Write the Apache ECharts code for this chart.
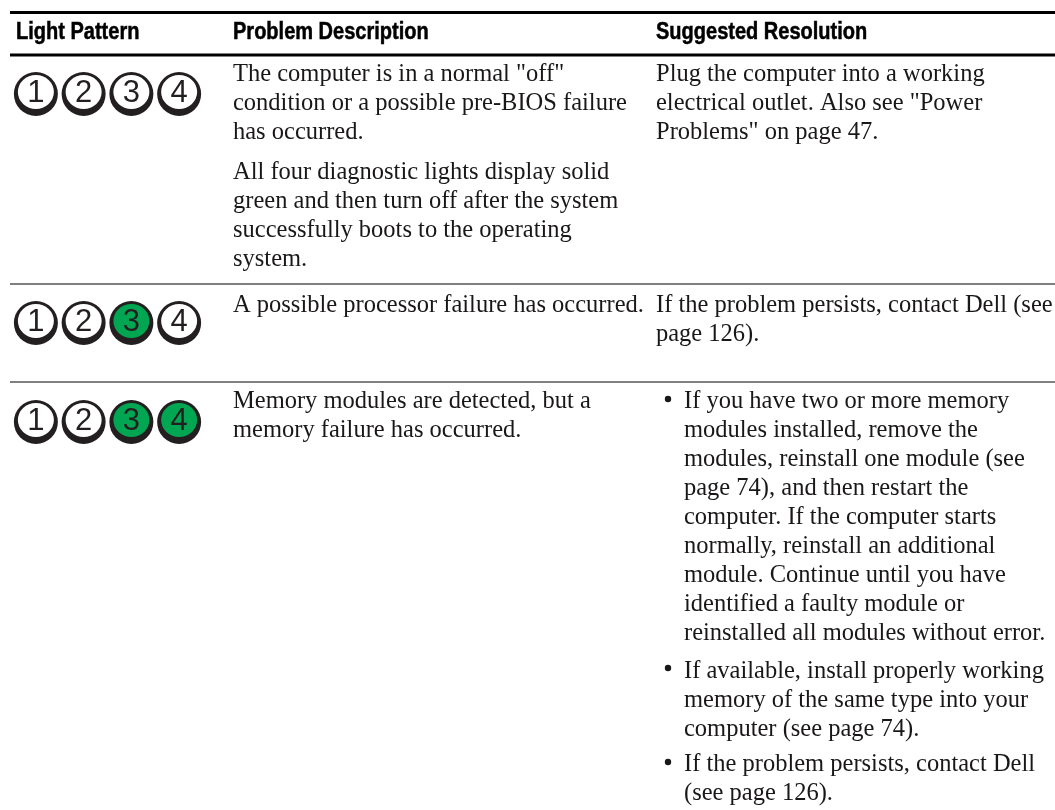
<!DOCTYPE html>
<html>
<head>
<meta charset="utf-8">
<style>
  html, body { margin: 0; padding: 0; background: #fff; }
  #main { width: 1055px; height: 810px; }
</style>
<script src="https://cdn.jsdelivr.net/npm/echarts@6/dist/echarts.min.js"></script>
</head>
<body>
<div id="main"></div>
<script>
// table content
var headers = ['Light Pattern', 'Problem Description', 'Suggested Resolution']
var lightNames = ['1', '2', '3', '4']
// 0 = off, 1 = solid green
var row1Lights = [0, 0, 0, 0]
var row2Lights = [0, 0, 1, 0]
var row3Lights = [0, 0, 1, 1]

var row1Problem = ['The computer is in a normal "off"', 'condition or a possible pre-BIOS failure', 'has occurred.']
var row1ProblemNote = ['All four diagnostic lights display solid', 'green and then turn off after the system', 'successfully boots to the operating', 'system.']
var row1Fix = ['Plug the computer into a working', 'electrical outlet. Also see "Power', 'Problems" on page 47.']
var row2Problem = ['A possible processor failure has occurred.']
var row2Fix = ['If the problem persists, contact Dell (see', 'page 126).']
var row3Problem = ['Memory modules are detected, but a', 'memory failure has occurred.']
var row3Fix1 = ['If you have two or more memory', 'modules installed, remove the', 'modules, reinstall one module (see', 'page 74), and then restart the', 'computer. If the computer starts', 'normally, reinstall an additional', 'module. Continue until you have', 'identified a faulty module or', 'reinstalled all modules without error.']
var row3Fix2 = ['If available, install properly working', 'memory of the same type into your', 'computer (see page 74).']
var row3Fix3 = ['If the problem persists, contact Dell', '(see page 126).']

var GREEN = '#00a651'
var INK = '#231f20'
var SERIF = '"Liberation Serif", serif'
var LINE_H = 29
// bottom对齐时基线到底部的距离
var DESCENT = 6

var chart = echarts.init(document.getElementById('main'))
var graphics = []

// 一段文字，每行一个text，y是第一行基线
function addBlock(lines, x, y) {
  lines.forEach(function (str, i) {
    graphics.push({
      type: 'text',
      x: x,
      y: y + i * LINE_H + DESCENT,
      style: { text: str, font: '24.5px ' + SERIF, fill: '#1a1718', textVerticalAlign: 'bottom' }
    })
  })
}

function addRule(y, w, color) {
  graphics.push({
    type: 'rect',
    shape: { x: 10, y: y - w / 2, width: 1045, height: w },
    style: { fill: color }
  })
}

function addBullet(x, y) {
  graphics.push({ type: 'circle', shape: { cx: x, cy: y, r: 3.2 }, style: { fill: '#1a1718' } })
}

addRule(12.5, 3, '#000')
addRule(55, 3, '#000')
addRule(284, 2, '#808080')
addRule(382, 2, '#808080')

var headerX = [16, 233, 656]
headers.forEach(function (str, i) {
  graphics.push({
    type: 'text',
    x: headerX[i],
    y: 44,
    scaleX: 0.87,
    style: { text: str, font: 'bold 23px "Liberation Sans", sans-serif', fill: '#000', stroke: '#000', lineWidth: 0.5, textVerticalAlign: 'bottom' }
  })
})

addBlock(row1Problem, 233, 81)
addBlock(row1ProblemNote, 233, 179)
addBlock(row1Fix, 656, 81)
addBlock(row2Problem, 233, 312)
addBlock(row2Fix, 656, 312)
addBlock(row3Problem, 233, 408)
addBlock(row3Fix1, 684, 408)
addBlock(row3Fix2, 684, 678)
addBlock(row3Fix3, 684, 771)
addBullet(668, 399)
addBullet(668, 668)
addBullet(668, 762)

// 每行灯一个grid
var lightRows = [row1Lights, row2Lights, row3Lights]
var rowCenters = [94, 323, 422]
var grids = [], xAxes = [], yAxes = [], series = []
lightRows.forEach(function (states, r) {
  grids.push({ left: 12, width: 191, top: rowCenters[r] - 22, height: 44 })
  xAxes.push({ type: 'category', gridIndex: r, data: lightNames, show: false })
  yAxes.push({ type: 'category', gridIndex: r, data: ['lights'], show: false })
  series.push({
    type: 'scatter',
    xAxisIndex: r,
    yAxisIndex: r,
    silent: true,
    symbolSize: 44,
    itemStyle: { color: INK, opacity: 1 },
    z: 2,
    data: lightNames.map(function (name) { return [name, 'lights'] })
  })
  series.push({
    type: 'scatter',
    xAxisIndex: r,
    yAxisIndex: r,
    silent: true,
    symbolSize: [36, 34],
    symbolOffset: [0, -2],
    z: 3,
    label: {
      show: true,
      position: 'inside',
      offset: [0, 1],
      fontFamily: '"Liberation Sans", sans-serif',
      fontSize: 31,
      color: INK,
      formatter: function (p) { return p.name }
    },
    data: states.map(function (s, i) {
      return {
        name: lightNames[i],
        value: [lightNames[i], 'lights'],
        itemStyle: { color: s ? GREEN : '#fff', opacity: 1 }
      }
    })
  })
})

chart.setOption({
  animation: false,
  backgroundColor: '#fff',
  grid: grids,
  xAxis: xAxes,
  yAxis: yAxes,
  series: series,
  graphic: graphics
})
</script>
</body>
</html>
